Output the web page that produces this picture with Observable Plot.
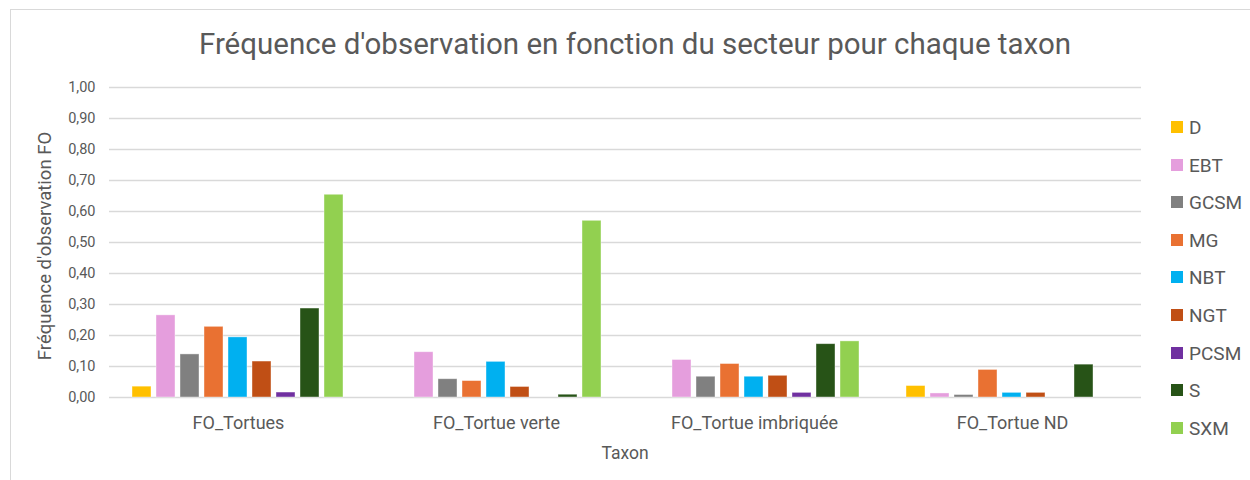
<!DOCTYPE html>
<html>
<head>
<meta charset="utf-8">
<script src="https://cdn.jsdelivr.net/npm/d3@7"></script>
<script src="https://cdn.jsdelivr.net/npm/@observablehq/plot@0.6"></script>
<style>
  html, body { margin: 0; padding: 0; background: #fff; }
  #wrap { position: relative; width: 1250px; height: 480px; overflow: hidden; font-family: Roboto, "Open Sans", sans-serif; color: #595959; }
  #frame { position: absolute; left: 10px; top: 9px; width: 1260px; height: 500px; border: 1px solid #d9d9d9; box-sizing: border-box; }
  #title { position: absolute; left: 0; width: 1270px; top: 25px; text-align: center; font-size: 29.5px; line-height: 38px; white-space: nowrap; }
  #ylab { position: absolute; left: 45px; top: 246px; transform: translate(-50%, -50%) rotate(-90deg); font-size: 18.5px; white-space: nowrap; }
  #xlab { position: absolute; left: 625px; top: 453px; transform: translate(-50%, -50%); font-size: 17.5px; }
  #legend { position: absolute; left: 1171px; top: 116px; font-size: 19px; }
  .li { height: 37.6px; display: flex; align-items: flex-start; }
  .sw { width: 12px; height: 12px; margin-top: 5px; margin-right: 6px; }
  #chart { position: absolute; left: 0; top: 0; }
</style>
</head>
<body>
<div id="wrap">
  <div id="frame"></div>
  <div id="chart"></div>
  <div id="title">Fréquence d'observation en fonction du secteur pour chaque taxon</div>
  <div id="ylab">Fréquence d'observation FO</div>
  <div id="xlab">Taxon</div>
  <div id="legend"></div>
</div>
<script>
const groups = ["FO_Tortues", "FO_Tortue verte", "FO_Tortue imbriquée", "FO_Tortue ND"];
const series = ["D", "EBT", "GCSM", "MG", "NBT", "NGT", "PCSM", "S", "SXM"];
const colors = ["#FFC000", "#E59EDD", "#808080", "#E97132", "#00B0F0", "#C04F15", "#7030A0", "#275317", "#92D050"];
const D    = [0.035, 0.000, 0.000, 0.037];
const EBT  = [0.265, 0.146, 0.121, 0.013];
const GCSM = [0.139, 0.059, 0.067, 0.008];
const MG   = [0.228, 0.053, 0.108, 0.089];
const NBT  = [0.194, 0.115, 0.067, 0.015];
const NGT  = [0.116, 0.034, 0.070, 0.015];
const PCSM = [0.016, 0.000, 0.015, 0.000];
const S    = [0.287, 0.009, 0.172, 0.106];
const SXM  = [0.654, 0.570, 0.181, 0.000];
const yTicks = [0, 0.1, 0.2, 0.3, 0.4, 0.5, 0.6, 0.7, 0.8, 0.9, 1.0];

const valuesBySeries = {D, EBT, GCSM, MG, NBT, NGT, PCSM, S, SXM};
const rows = [];
groups.forEach((g, gi) => series.forEach(s => rows.push({group: g, series: s, value: valuesBySeries[s][gi]})));
const bars = rows.filter(d => d.value > 0);
const fmt = v => d3.format(".2f")(v).replace(".", ",");

const chart = Plot.plot({
  width: 1250,
  height: 480,
  marginLeft: 109,
  marginRight: 109,
  marginTop: 87,
  marginBottom: 83,
  style: {fontFamily: "Roboto, 'Open Sans', sans-serif", color: "#595959", background: "transparent"},
  fx: {domain: groups, paddingInner: 0, paddingOuter: 0, label: null},
  x: {domain: series, paddingInner: 0.207, paddingOuter: 0.848, axis: null},
  y: {domain: [0, 1], label: null},
  color: {domain: series, range: colors},
  marks: [
    Plot.ruleY(yTicks, {stroke: "#d9d9d9", strokeWidth: 1.3}),
    Plot.barY(bars, {fx: "group", x: "series", y: "value", fill: "series", stroke: "#ffffff", strokeOpacity: 0.5, strokeWidth: 0.8}),
    Plot.axisY({ticks: yTicks, tickFormat: fmt, tickSize: 0, tickPadding: 14, fontSize: 14.5, fill: "#595959", label: null}),
    Plot.axisFx({anchor: "bottom", tickSize: 0, tickPadding: 19, fontSize: 18, fill: "#595959", label: null})
  ]
});
document.getElementById("chart").appendChild(chart);

const legend = document.getElementById("legend");
series.forEach((s, i) => {
  const row = document.createElement("div");
  row.className = "li";
  row.innerHTML = `<div class="sw" style="background:${colors[i]}"></div><div>${s}</div>`;
  legend.appendChild(row);
});
</script>
</body>
</html>
